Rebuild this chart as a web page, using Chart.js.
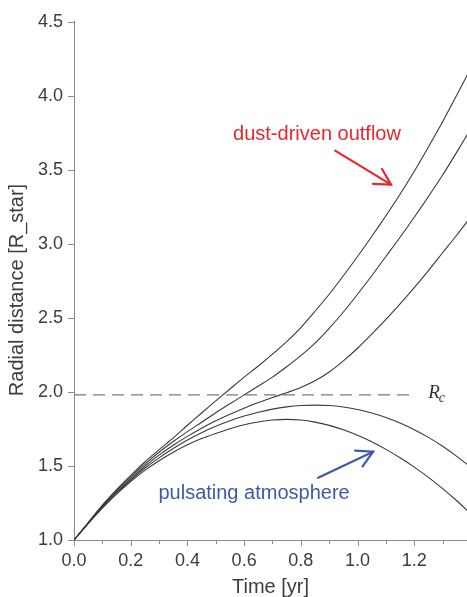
<!DOCTYPE html>
<html><head><meta charset="utf-8">
<script src="https://cdn.jsdelivr.net/npm/chart.js@4.4.1/dist/chart.umd.min.js"></script>
<style>html,body{margin:0;padding:0;background:#fff;}#wrap{width:467px;height:597px;}</style>
</head><body><div id="wrap"><canvas id="c" width="467" height="597"></canvas></div>
<script>
// ---- data ----
const times = [0,0.05,0.1,0.15,0.2,0.25,0.3,0.35,0.4,0.45,0.5,0.55,0.6,0.65,0.7,0.75,0.8,0.85,0.9,0.95,1.0,1.05,1.1,1.15,1.2,1.25,1.3,1.35,1.4];
const outflowA = [1.0,1.118,1.235,1.34,1.437,1.527,1.61,1.69,1.775,1.858,1.94,2.02,2.10,2.175,2.255,2.34,2.435,2.545,2.66,2.785,2.915,3.05,3.19,3.335,3.49,3.655,3.825,4.005,4.19];
const outflowB = [1.0,1.116,1.23,1.333,1.427,1.513,1.593,1.665,1.732,1.795,1.86,1.92,1.98,2.04,2.10,2.17,2.245,2.33,2.43,2.54,2.66,2.785,2.915,3.045,3.18,3.32,3.465,3.62,3.78];
const outflowC = [1.0,1.114,1.225,1.325,1.415,1.498,1.573,1.64,1.70,1.755,1.805,1.85,1.89,1.928,1.962,1.995,2.03,2.075,2.135,2.21,2.295,2.39,2.49,2.595,2.705,2.82,2.94,3.06,3.185];
const pulsD = [1.0,1.112,1.22,1.318,1.405,1.485,1.555,1.618,1.675,1.725,1.768,1.805,1.837,1.863,1.884,1.899,1.908,1.911,1.908,1.898,1.882,1.858,1.828,1.79,1.745,1.693,1.633,1.565,1.49];
const pulsE = [1.0,1.11,1.215,1.31,1.395,1.47,1.535,1.593,1.643,1.685,1.72,1.752,1.778,1.797,1.81,1.815,1.81,1.796,1.774,1.744,1.707,1.663,1.612,1.555,1.492,1.423,1.347,1.265,1.175];
const rcValue = 1.98;
const rcLine = [[0, rcValue], [1.2, rcValue]];
const xTicks = [0,0.2,0.4,0.6,0.8,1.0,1.2];
const xMinorTicks = [0.1,0.3,0.5,0.7,0.9,1.1,1.3];
const yTicks = [1.0,1.5,2.0,2.5,3.0,3.5,4.0,4.5];

// annotation anchors in data coordinates
const outflowText = {text:'dust-driven outflow', x:0.857, y:3.74};
const outflowArrow = {x0:0.921, y0:3.63, x1:1.118, y1:3.40};
const atmText = {text:'pulsating atmosphere', x:0.635, y:1.315};
const atmArrow = {x0:0.861, y0:1.42, x1:1.055, y1:1.596};
const rcLabel = {x:1.249, y:rcValue};

const curveColor = '#3a3a3a';
const axisColor = '#8a8a8a';
const textColor = '#3c3c3c';

function series(vals){ return times.map((t,i)=>({x:t,y:vals[i]})); }
function curve(vals){ return {data:series(vals), borderColor:curveColor, borderWidth:1.1, pointRadius:0, tension:0.3, fill:false}; }

function drawArrow(ctx, x0, y0, x1, y1, color){
  const ang = Math.atan2(y1-y0, x1-x0);
  const L = 18, a = 0.5;
  ctx.strokeStyle = color; ctx.lineWidth = 2.2; ctx.lineCap='round';
  ctx.beginPath(); ctx.moveTo(x0,y0); ctx.lineTo(x1,y1); ctx.stroke();
  ctx.beginPath();
  ctx.moveTo(x1 - L*Math.cos(ang-a), y1 - L*Math.sin(ang-a));
  ctx.lineTo(x1,y1);
  ctx.lineTo(x1 - L*Math.cos(ang+a), y1 - L*Math.sin(ang+a));
  ctx.stroke();
}

const deco = {
  id:'deco',
  afterDraw(chart){
    const ctx = chart.ctx, xs = chart.scales.x, ys = chart.scales.y;
    const left = chart.chartArea.left, bottom = chart.chartArea.bottom;
    ctx.save();
    ctx.strokeStyle = axisColor; ctx.lineWidth = 1;
    yTicks.forEach(v=>{ const p = Math.round(ys.getPixelForValue(v))+0.5; ctx.beginPath(); ctx.moveTo(left-6,p); ctx.lineTo(left,p); ctx.stroke(); });
    xTicks.forEach(v=>{ const p = Math.round(xs.getPixelForValue(v))+0.5; ctx.beginPath(); ctx.moveTo(p,bottom); ctx.lineTo(p,bottom+6); ctx.stroke(); });
    xMinorTicks.forEach(v=>{ const p = Math.round(xs.getPixelForValue(v))+0.5; ctx.beginPath(); ctx.moveTo(p,bottom); ctx.lineTo(p,bottom+4); ctx.stroke(); });

    // y axis title
    ctx.save();
    ctx.translate(17, 290); ctx.rotate(-Math.PI/2);
    ctx.fillStyle = textColor; ctx.font = '20px "Liberation Sans", Arial, sans-serif';
    ctx.textAlign='center'; ctx.textBaseline='middle';
    ctx.fillText('Radial distance [R_star]', 0, 0);
    ctx.restore();

    // annotations
    ctx.font = '20px "Liberation Sans", Arial, sans-serif';
    ctx.textAlign='center'; ctx.textBaseline='middle';
    ctx.fillStyle = '#e8262b';
    ctx.fillText(outflowText.text, xs.getPixelForValue(outflowText.x), ys.getPixelForValue(outflowText.y));
    drawArrow(ctx, xs.getPixelForValue(outflowArrow.x0), ys.getPixelForValue(outflowArrow.y0), xs.getPixelForValue(outflowArrow.x1), ys.getPixelForValue(outflowArrow.y1), '#e8262b');
    ctx.fillStyle = '#3b5ba8';
    ctx.fillText(atmText.text, xs.getPixelForValue(atmText.x), ys.getPixelForValue(atmText.y));
    drawArrow(ctx, xs.getPixelForValue(atmArrow.x0), ys.getPixelForValue(atmArrow.y0), xs.getPixelForValue(atmArrow.x1), ys.getPixelForValue(atmArrow.y1), '#3b5ba8');

    // R_c label
    const rx = xs.getPixelForValue(rcLabel.x), ry = ys.getPixelForValue(rcLabel.y);
    ctx.fillStyle = '#333'; ctx.textAlign='left'; ctx.textBaseline='alphabetic';
    ctx.font = 'italic 19px "Liberation Serif", "DejaVu Serif", serif';
    ctx.fillText('R', rx, ry+3);
    const w = ctx.measureText('R').width;
    ctx.font = 'italic 14px "Liberation Serif", "DejaVu Serif", serif';
    ctx.fillText('c', rx + w - 1, ry+7);
    ctx.restore();
  }
};

new Chart(document.getElementById('c'), {
  type:'line',
  data:{ datasets:[
    curve(outflowA), curve(outflowB), curve(outflowC), curve(pulsD), curve(pulsE),
    {data:rcLine.map(p=>({x:p[0],y:p[1]})), borderColor:'#7a7a7a', borderWidth:1.2, borderDash:[12,7], pointRadius:0, fill:false}
  ]},
  options:{
    responsive:false, animation:false, devicePixelRatio:1,
    layout:{padding:{top:17,right:0,left:0,bottom:0}},
    plugins:{legend:{display:false}, tooltip:{enabled:false}},
    scales:{
      x:{type:'linear', min:0, max:1.386,
        afterBuildTicks(s){ s.ticks = xTicks.map(v=>({value:v})); },
        afterFit(s){ s.height = 57; },
        grid:{display:false, drawTicks:false},
        border:{display:true, color:axisColor, width:1},
        ticks:{padding:10, maxRotation:0, autoSkip:false, color:textColor, font:{family:'"Liberation Sans", Arial, sans-serif', size:18}, callback:v=>Number(v).toFixed(1)},
        title:{display:true, text:'Time [yr]', color:textColor, font:{family:'"Liberation Sans", Arial, sans-serif', size:20, lineHeight:1}, padding:{top:0,bottom:0}}
      },
      y:{type:'linear', min:1, max:4.5,
        afterBuildTicks(s){ s.ticks = yTicks.map(v=>({value:v})); },
        afterFit(s){ s.width = 74; },
        grid:{display:false, drawTicks:false},
        border:{display:true, color:axisColor, width:1},
        ticks:{padding:11, color:textColor, font:{family:'"Liberation Sans", Arial, sans-serif', size:18}, callback:v=>Number(v).toFixed(1)}
      }
    }
  },
  plugins:[deco]
});
</script>
</body></html>
